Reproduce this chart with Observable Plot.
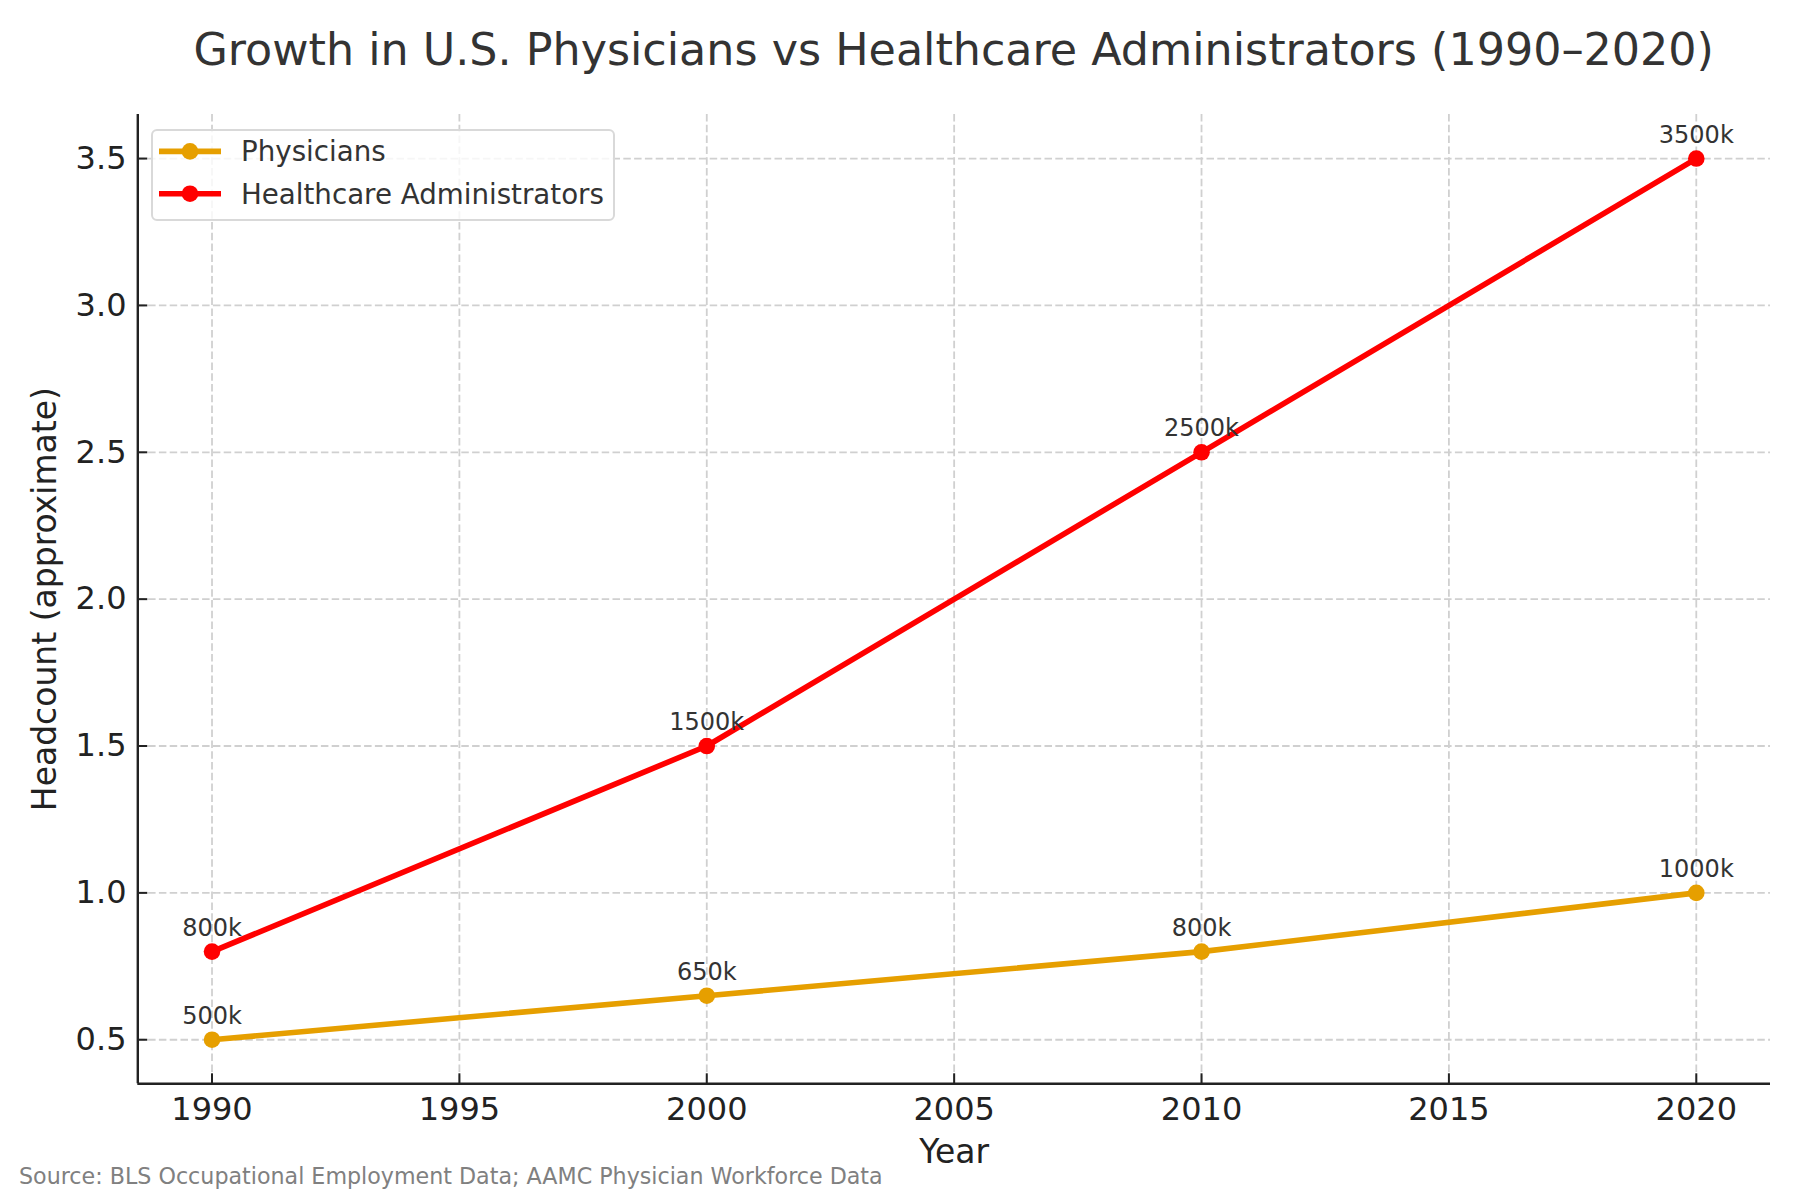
<!DOCTYPE html>
<html>
<head>
<meta charset="utf-8">
<script src="https://cdn.jsdelivr.net/npm/d3@7"></script>
<script src="https://cdn.jsdelivr.net/npm/@observablehq/plot@0.6"></script>
<style>
  body { margin: 0; background: #fff; font-family: "DejaVu Sans", sans-serif; }
  #wrap { position: relative; width: 1800px; height: 1200px; overflow: hidden; background: #fff; }
  #title { position: absolute; left: 137.3px; top: 27.6px; width: 1632.7px; text-align: center;
           font-size: 44.4px; line-height: 44.4px; color: #333; white-space: nowrap; }
  #chart { position: absolute; left: 0; top: 100px; }
  #legend { position: absolute; left: 151px; top: 129.3px; }
  #source { position: absolute; left: 19px; top: 1164.8px; font-size: 22.2px; line-height: 22.2px;
            color: #808080; white-space: nowrap; }
</style>
</head>
<body>
<div id="wrap">
  <div id="title">Growth in U.S. Physicians vs Healthcare Administrators (1990–2020)</div>
  <div id="chart"></div>
  <div id="legend"></div>
  <div id="source">Source: BLS Occupational Employment Data; AAMC Physician Workforce Data</div>
</div>
<script>
// ---- data ----
const years = [1990, 2000, 2010, 2020];
const physicians = [0.5, 0.65, 0.8, 1.0];
const administrators = [0.8, 1.5, 2.5, 3.5];
const seriesNames = ["Physicians", "Healthcare Administrators"];
const seriesColors = ["#E69F00", "#FF0000"];
const xTicks = [1990, 1995, 2000, 2005, 2010, 2015, 2020];
const yTicks = [0.5, 1.0, 1.5, 2.0, 2.5, 3.0, 3.5];
const xLabel = "Year";
const yLabel = "Headcount (approximate)";

// ---- tables ----
const seriesValues = [physicians, administrators];
const series = seriesNames.map((name, s) =>
  years.map((year, i) => ({series: name, year, value: seriesValues[s][i]})));

// matplotlib-like 5% margins
function padded(ext) { const p = (ext[1] - ext[0]) * 0.05; return [ext[0] - p, ext[1] + p]; }
const xDomain = padded(d3.extent(years));
const yDomain = padded(d3.extent(seriesValues.flat()));

const W = 1800, H = 1070;
const mT = 14, mB = 86.7, mL = 137.3, mR = 30;
const plotW = W - mL - mR, plotH = H - mT - mB;
const ink = "#222";

const marks = [
  Plot.gridX(xTicks, {stroke: "#d0d0d0", strokeOpacity: 1, strokeWidth: 1.8, strokeDasharray: "7.5,3.3"}),
  Plot.gridY(yTicks, {stroke: "#d0d0d0", strokeOpacity: 1, strokeWidth: 1.8, strokeDasharray: "7.5,3.3"})
];
series.forEach((data, s) => {
  marks.push(Plot.line(data, {x: "year", y: "value", stroke: seriesColors[s], strokeWidth: 5.6}));
  marks.push(Plot.dot(data, {x: "year", y: "value", r: 8.3, fill: seriesColors[s], stroke: "none"}));
});
series.forEach((data) => {
  marks.push(Plot.text(data, {x: "year", y: "value", text: d => `${Math.round(d.value * 1000)}k`,
    dy: -16, lineAnchor: "bottom", textAnchor: "middle", fontSize: 24, fill: "#333"}));
});
marks.push(
  // inward tick marks
  Plot.ruleX(xTicks, {x: d => d, insetTop: plotH - 10, stroke: ink, strokeWidth: 2}),
  Plot.ruleY(yTicks, {y: d => d, insetRight: plotW - 10, stroke: ink, strokeWidth: 2}),
  // spines
  Plot.ruleX([xDomain[0]], {stroke: ink, strokeWidth: 2.4}),
  Plot.ruleY([yDomain[0]], {stroke: ink, strokeWidth: 2.4}),
  // tick labels
  Plot.axisX({ticks: xTicks, tickSize: 0, tickPadding: 13.3, tickFormat: d => String(d), label: null, fontSize: 32, fill: ink}),
  Plot.axisY({ticks: yTicks, tickSize: 0, tickPadding: 11.3, tickFormat: d => d.toFixed(1), label: null, fontSize: 32, fill: ink}),
  // axis titles
  Plot.text([xLabel], {text: d => d, frameAnchor: "bottom", textAnchor: "middle", dy: 79, lineAnchor: "bottom", fontSize: 33, fill: ink}),
  Plot.text([yLabel], {text: d => d, frameAnchor: "left", textAnchor: "middle", dx: -82.3, rotate: -90, lineAnchor: "bottom", fontSize: 33, fill: ink})
);

const chart = Plot.plot({
  width: W, height: H,
  marginTop: mT, marginBottom: mB, marginLeft: mL, marginRight: mR,
  style: {fontFamily: "'DejaVu Sans', sans-serif", fontSize: "32px", color: ink, background: "#fff", overflow: "visible"},
  x: {domain: xDomain},
  y: {domain: yDomain},
  marks
});
document.getElementById("chart").appendChild(chart);

// ---- legend ----
const lw = 464, lh = 92;
const leg = d3.select("#legend").append("svg").attr("width", lw).attr("height", lh)
  .style("font-family", "'DejaVu Sans', sans-serif").style("display", "block");
leg.append("rect").attr("x", 1).attr("y", 1).attr("width", lw - 2).attr("height", lh - 2).attr("rx", 5)
  .attr("fill", "#fff").attr("fill-opacity", 0.8).attr("stroke", "#d9d9d9").attr("stroke-width", 2);
seriesNames.forEach((name, i) => {
  const cy = 22.4 + i * 42.3;
  leg.append("line").attr("x1", 8).attr("x2", 70).attr("y1", cy).attr("y2", cy)
    .attr("stroke", seriesColors[i]).attr("stroke-width", 5.6);
  leg.append("circle").attr("cx", 39).attr("cy", cy).attr("r", 8.3).attr("fill", seriesColors[i]);
  leg.append("text").attr("x", 90).attr("y", cy + 10).attr("font-size", 27.7).attr("fill", "#333").text(name);
});
</script>
</body>
</html>
